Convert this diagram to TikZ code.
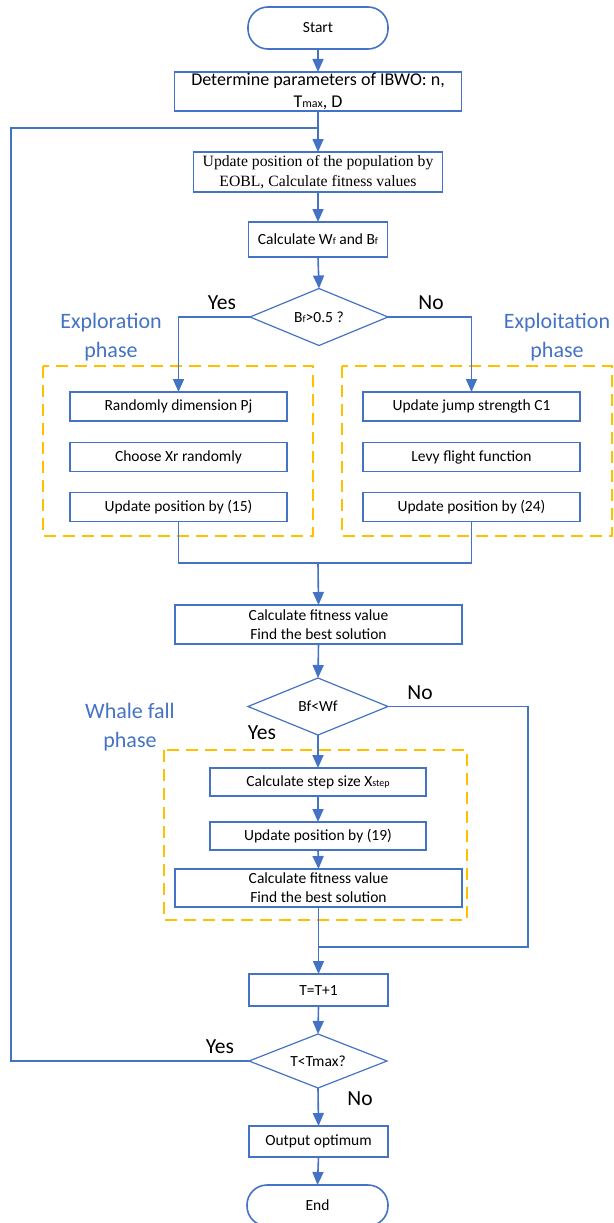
\documentclass[tikz,border=0pt]{standalone}
\usepackage{fontspec}
\setmainfont{Carlito}
\newfontfamily\timesf{Liberation Serif}
\usetikzlibrary{arrows.meta,shapes.geometric}
\definecolor{bblue}{HTML}{4472C4}
\definecolor{dorange}{HTML}{FFC000}
\newcommand{\smtxt}[1]{{\fontsize{10}{10}\selectfont #1}}
\newcommand{\mdtxt}[1]{{\fontsize{12}{12}\selectfont #1}}
\begin{document}
\begin{tikzpicture}[x=1pt,y=-1pt,
  every node/.style={inner sep=0pt, outer sep=0pt},
  boxn/.style={draw=bblue, line width=1.6pt, rectangle, align=center, font=\fontsize{15.5}{19}\selectfont},
  termn/.style={boxn, rounded corners=20pt},
  decn/.style={draw=bblue, line width=1.2pt, diamond, aspect=2.4, font=\fontsize{15.5}{19}\selectfont},
  conn/.style={draw=bblue, line width=1.6pt},
  arr/.style={conn, -{Triangle[length=13pt,width=11pt]}},
  phasebox/.style={draw=dorange, line width=1.3pt, dash pattern=on 12pt off 7pt},
  phaselbl/.style={text=bblue, align=center, font=\fontsize{22}{29}\selectfont},
  yn/.style={font=\fontsize{21.5}{24}\selectfont}
]
\useasboundingbox (0,0) rectangle (613,1223);

% dashed phase boxes
\draw[phasebox] (43,366) rectangle (313,536);
\draw[phasebox] (342,366) rectangle (612,536);
\draw[phasebox] (164,750) rectangle (467,920);

% nodes
\node[termn, minimum width=140pt, minimum height=42pt] (start) at (318,28) {Start};
\node[boxn, minimum width=287pt, minimum height=39pt, font=\fontsize{18}{22}\selectfont] (det) at (318,91.5) {Determine parameters of IBWO: n,\\T\mdtxt{max}, D};
\node[boxn, minimum width=249pt, minimum height=40pt, font=\timesf\fontsize{15.7}{20}\selectfont] (eobl) at (318,172) {Update position of the population by\\EOBL, Calculate fitness values};
\node[boxn, minimum width=139pt, minimum height=35pt] (calcw) at (318,239.5) {Calculate W\smtxt{f} and B\smtxt{f}};
\node[decn, minimum width=138pt, minimum height=57pt] (d1) at (319,317) {B\smtxt{f}>0.5 ?};

\node[boxn, minimum width=217pt, minimum height=29pt] (r1) at (178.5,406.5) {Randomly dimension Pj};
\node[boxn, minimum width=217pt, minimum height=29pt] (r2) at (178.5,457) {Choose Xr randomly};
\node[boxn, minimum width=217pt, minimum height=29pt] (r3) at (178.5,507) {Update position by (15)};
\node[boxn, minimum width=217pt, minimum height=29pt] (x1) at (471.5,406.5) {Update jump strength C1};
\node[boxn, minimum width=217pt, minimum height=29pt] (x2) at (471.5,457) {Levy flight function};
\node[boxn, minimum width=217pt, minimum height=29pt] (x3) at (471.5,507) {Update position by (24)};

\node[boxn, minimum width=287pt, minimum height=39pt] (cf) at (318.5,624.5) {Calculate fitness value\\Find the best solution};
\node[decn, minimum width=140pt, minimum height=57pt] (d2) at (318,706.5) {Bf<Wf};

\node[boxn, minimum width=216pt, minimum height=28pt] (step) at (318,782) {Calculate step size X\smtxt{step}};
\node[boxn, minimum width=216pt, minimum height=28pt] (u19) at (318,836) {Update position by (19)};
\node[boxn, minimum width=287pt, minimum height=38pt] (cf2) at (318.5,888) {Calculate fitness value\\Find the best solution};

\node[boxn, minimum width=139pt, minimum height=32pt] (tt) at (318.5,990) {T=T+1};
\node[decn, minimum width=138pt, minimum height=54pt] (d3) at (318,1061) {T<Tmax?};
\node[boxn, minimum width=139pt, minimum height=31pt] (out) at (318.5,1141.5) {Output optimum};
\node[termn, minimum width=141pt, minimum height=41pt] (end) at (317.5,1205.5) {End};

% labels
\node[yn] (yes1) at (222,303) {Yes};
\node[yn] (no1) at (431,303) {No};
\node[phaselbl] (lexp) at (111,337.5) {Exploration\\phase};
\node[phaselbl] (lexpt) at (557,337.5) {Exploitation\\phase};
\node[phaselbl] (lwf) at (130,727) {Whale fall\\phase};
\node[yn] (no2) at (420,693) {No};
\node[yn] (yes2) at (262,733) {Yes};
\node[yn] (yes3) at (220,1047) {Yes};
\node[yn] (no3) at (360,1099) {No};

% coordinates
\coordinate (lj) at (318,128);
\coordinate (jn) at (318,563);
\coordinate (nj) at (318,947);
\coordinate (lc1) at (11,1061);
\coordinate (lc2) at (11,128);
\coordinate (nc1) at (528,706.5);
\coordinate (nc2) at (528,947);

% connectors
\draw[arr] (start.south) -- (det.north);
\draw[arr] (det.south) -- (eobl.north);
\draw[arr] (eobl.south) -- (calcw.north);
\draw[arr] (calcw.south) -- (d1.north);
\draw[arr] (d1.west) -| (r1.north);
\draw[arr] (d1.east) -| (x1.north);
\draw[conn] (r3.south) |- (jn);
\draw[conn] (x3.south) |- (jn);
\draw[arr] (jn) -- (cf.north);
\draw[arr] (cf.south) -- (d2.north);
\draw[arr] (d2.south) -- (step.north);
\draw[arr] (step.south) -- (u19.north);
\draw[arr] (u19.south) -- (cf2.north);
\draw[arr] (cf2.south) -- (tt.north);
\draw[conn] (d2.east) -- (nc1) -- (nc2) -- (nj);
\draw[arr] (tt.south) -- (d3.north);
\draw[arr] (d3.south) -- (out.north);
\draw[arr] (out.south) -- (end.north);
\draw[conn] (d3.west) -- (lc1) -- (lc2) -- (lj);
\end{tikzpicture}
\end{document}
